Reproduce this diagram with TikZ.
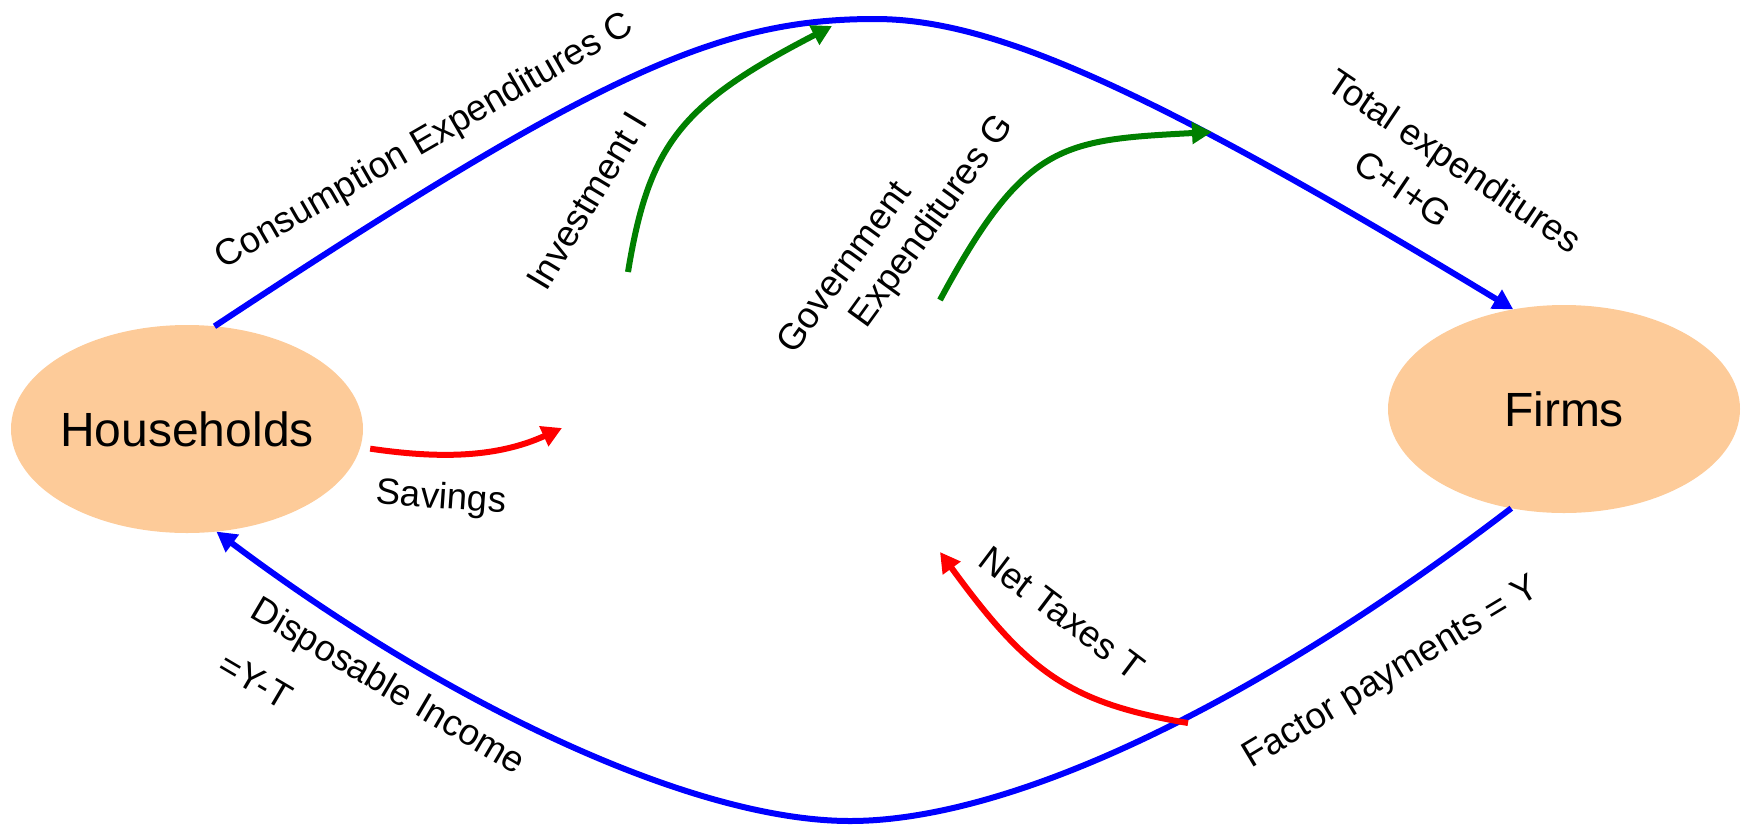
\documentclass[tikz,border=0pt]{standalone}
\usepackage{fontspec}
\setmainfont{Liberation Sans}
\usetikzlibrary{arrows.meta,shapes.geometric}
\definecolor{peach}{RGB}{253,203,153}
\definecolor{dkgreen}{RGB}{0,128,0}

\begin{document}
\begin{tikzpicture}[x=0.5pt,y=-0.5pt,line width=3pt,
  >={Triangle[length=10pt,width=10.5pt]},
  sector/.style={ellipse,fill=peach,minimum width=176pt,minimum height=104pt,
    inner xsep=-3pt,inner ysep=0pt,outer sep=0pt,font=\fontsize{24}{28}\selectfont},
  lbl/.style={font=\fontsize{18.3}{21.6}\selectfont,inner sep=0pt},
  flow/.style={blue,->},
  inject/.style={dkgreen,->},
  leak/.style={red,->}]
\useasboundingbox (0,0) rectangle (1742,826);
\node[sector] (hh) at (187,429) {Households};
\node[sector] (firms) at (1564,409) {Firms};
\coordinate (top) at (875,19);
\coordinate (bottom) at (850,821);
\coordinate (invs) at (628,272);
\coordinate (inve) at (832,26);
\coordinate (govs) at (940,300);
\coordinate (gove) at (1212,132);
\coordinate (save) at (562,428);
\coordinate (taxs) at (1188,723);
\coordinate (taxe) at (940,552);
% circular flow
\draw[flow] (hh.75) .. controls (601,71) and (720,19) .. (top)
  .. controls (995,19) and (1153,91) .. (firms.117);
\draw[flow] (firms.242) .. controls (1253,706) and (1010,821) .. (bottom)
  .. controls (690,821) and (442,701) .. (hh.286.6);
% injections and leakages
\draw[inject] (invs) .. controls (649,144) and (681,104) .. (inve);
\draw[inject] (govs) .. controls (1025,142) and (1062,140) .. (gove);
\draw[leak,shorten <=5pt] (hh.-6) .. controls (434,458) and (494,459) .. (save);
\draw[leak] (taxs) .. controls (1070,703) and (1028,673) .. (taxe);
% labels
\node[lbl,rotate=30] (cons) at (425,142) {Consumption Expenditures C};
\node[lbl,rotate=59] (inv) at (587,201) {Investment I};
\node[lbl,rotate=54,align=left] (gov) at (897,235) {Government\\\hspace*{31.5pt}Expenditures G};
\node[lbl,rotate=-34,align=center] (tot) at (1440,182) {Total expenditures\\[4.4pt]C+I+G\rule{27pt}{0pt}};
\node[lbl,rotate=-4] (sav) at (441,499) {Savings};
\node[lbl,rotate=-30.5,align=left] (disp) at (373,712) {Disposable Income\\[10.4pt]=Y-T};
\node[lbl,rotate=-37] (tax) at (1062,613) {Net Taxes T};
\node[lbl,rotate=31] (fact) at (1392,674) {Factor payments = Y};
\end{tikzpicture}
\end{document}
